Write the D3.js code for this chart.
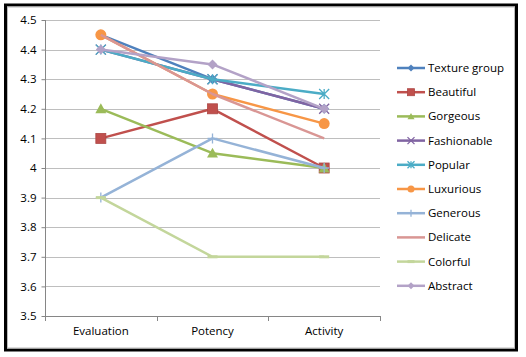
<!DOCTYPE html>
<html><head><meta charset="utf-8">
<script src="https://cdn.jsdelivr.net/npm/d3@7"></script>
<style>body{margin:0;background:#fff}svg{display:block}text{font-family:"Open Sans","Noto Sans",sans-serif;fill:#000}</style>
</head><body>
<svg id="c" width="526" height="357"></svg>
<script>
const categories = ["Evaluation", "Potency", "Activity"];
const seriesNames = ["Texture group","Beautiful","Gorgeous","Fashionable","Popular","Luxurious","Generous","Delicate","Colorful","Abstract"];
const textureGroup = [4.45, 4.30, 4.20];
const beautiful    = [4.10, 4.20, 4.00];
const gorgeous     = [4.20, 4.05, 4.00];
const fashionable  = [4.40, 4.30, 4.20];
const popular      = [4.40, 4.30, 4.25];
const luxurious    = [4.45, 4.25, 4.15];
const generous     = [3.90, 4.10, 4.00];
const delicate     = [4.45, 4.25, 4.10];
const colorful     = [3.90, 3.70, 3.70];
const abstract     = [4.40, 4.35, 4.20];
const yTicks = [3.5,3.6,3.7,3.8,3.9,4.0,4.1,4.2,4.3,4.4,4.5];
const tickLabels = ["3.5","3.6","3.7","3.8","3.9","4","4.1","4.2","4.3","4.4","4.5"];
const colors = ["#4F81BD","#C0504D","#9BBB59","#8064A2","#4BACC6","#F79646","#95B3D7","#D99694","#C3D69B","#B3A2C7"];
const markers = ["diamond","square","triangle","x","star","circle","plus","none","dash","diamond"];

const values = [textureGroup,beautiful,gorgeous,fashionable,popular,luxurious,generous,delicate,colorful,abstract];
const series = seriesNames.map((n,i)=>({name:n,values:values[i],color:colors[i],marker:markers[i]}));
// draw order: Excel draws first series at bottom
const svg = d3.select("#c");

// frame
svg.append("rect").attr("x",5.5).attr("y",5).attr("width",511).attr("height",345)
  .attr("fill","#fff").attr("stroke","#000").attr("stroke-width",3);
svg.append("rect").attr("x",7.5).attr("y",7).attr("width",507).attr("height",341)
  .attr("fill","none").attr("stroke","#bbb").attr("stroke-width",1);

const x = d3.scaleBand().domain(categories).range([45,380]);
const y = d3.scaleLinear().domain([3.5,4.5]).range([316,20]);

// gridlines
svg.append("g").selectAll("line").data(yTicks).join("line")
  .attr("x1",45).attr("x2",380)
  .attr("y1",d=>Math.round(y(d))+0.5).attr("y2",d=>Math.round(y(d))+0.5)
  .attr("stroke","#BEBEBE").attr("stroke-width",1);

// y axis
const ya = svg.append("g").attr("transform","translate(45.5,0)")
  .call(d3.axisLeft(y).tickValues(yTicks).tickFormat((d,i)=>tickLabels[i]).tickSize(4).tickPadding(5));
ya.select(".domain").attr("stroke","#868686").attr("d","M0,20V316");
ya.selectAll(".tick line").attr("stroke","#868686");
ya.selectAll(".tick text").attr("font-size",11.5).attr("fill","#000");

// x axis
const xa = svg.append("g").attr("transform","translate(0,316.5)")
  .call(d3.axisBottom(x).tickSize(0).tickPadding(10));
xa.select(".domain").attr("stroke","#868686").attr("d","M45,0H380");
xa.selectAll(".tick text").attr("font-size",11.5).attr("fill","#000");
// category boundary ticks
svg.append("g").selectAll("line").data(categories.concat(["end"])).join("line")
  .attr("x1",(d,i)=>Math.round(45+i*x.bandwidth())+0.5).attr("x2",(d,i)=>Math.round(45+i*x.bandwidth())+0.5)
  .attr("y1",316).attr("y2",321).attr("stroke","#868686");

const cx = c => x(c)+x.bandwidth()/2;
const line = d3.line().x((d,i)=>cx(categories[i])).y(d=>y(d));

function drawMarker(g, type, color, size){
  const s=size;
  if(type==="diamond") g.append("path").attr("d",`M0,${-s}L${s},0L0,${s}L${-s},0Z`).attr("fill",color);
  else if(type==="square") g.append("rect").attr("x",-s).attr("y",-s).attr("width",2*s).attr("height",2*s).attr("fill",color).attr("stroke",d3.color(color).darker(0.3)).attr("stroke-width",0.8);
  else if(type==="triangle") g.append("path").attr("d",`M0,${-s}L${s},${s*0.8}L${-s},${s*0.8}Z`).attr("fill",color);
  else if(type==="circle") g.append("circle").attr("r",s).attr("fill",color);
  else if(type==="x") g.append("path").attr("d",`M${-s},${-s}L${s},${s}M${-s},${s}L${s},${-s}`).attr("stroke",color).attr("stroke-width",1.3);
  else if(type==="star") g.append("path").attr("d",`M${-s},${-s}L${s},${s}M${-s},${s}L${s},${-s}M0,${-s}V${s}`).attr("stroke",color).attr("stroke-width",1.3);
  else if(type==="plus") g.append("path").attr("d",`M${-s},0H${s}M0,${-s}V${s}`).attr("stroke",color).attr("stroke-width",1.3);
  else if(type==="dash") g.append("path").attr("d",`M${-s},0H${s}`).attr("stroke",color).attr("stroke-width",3);
}

const sizes = {diamond:5,square:5,triangle:5.5,circle:5.5,x:5,star:5,plus:5,dash:5,none:0};

series.forEach(s=>{
  svg.append("path").datum(s.values).attr("d",line).attr("fill","none")
    .attr("stroke",s.color).attr("stroke-width",2.5).attr("stroke-linejoin","round");
  s.values.forEach((v,i)=>{
    const g = svg.append("g").attr("transform",`translate(${cx(categories[i])},${y(v)})`);
    drawMarker(g,s.marker,s.color,sizes[s.marker]);
  });
});

// legend
const lg = svg.append("g");
series.forEach((s,i)=>{
  const yy = 68 + i*24.2;
  const g = lg.append("g").attr("transform",`translate(0,${yy})`);
  g.append("line").attr("x1",397).attr("x2",425).attr("y1",0).attr("y2",0).attr("stroke",s.color).attr("stroke-width",2.5);
  const m = g.append("g").attr("transform","translate(411,0)");
  drawMarker(m,s.marker,s.color,s.marker==="none"?0:3.5);
  g.append("text").attr("x",428).attr("y",0).attr("dy","0.35em").attr("font-size",11.5).text(s.name);
});
</script>
</body></html>
